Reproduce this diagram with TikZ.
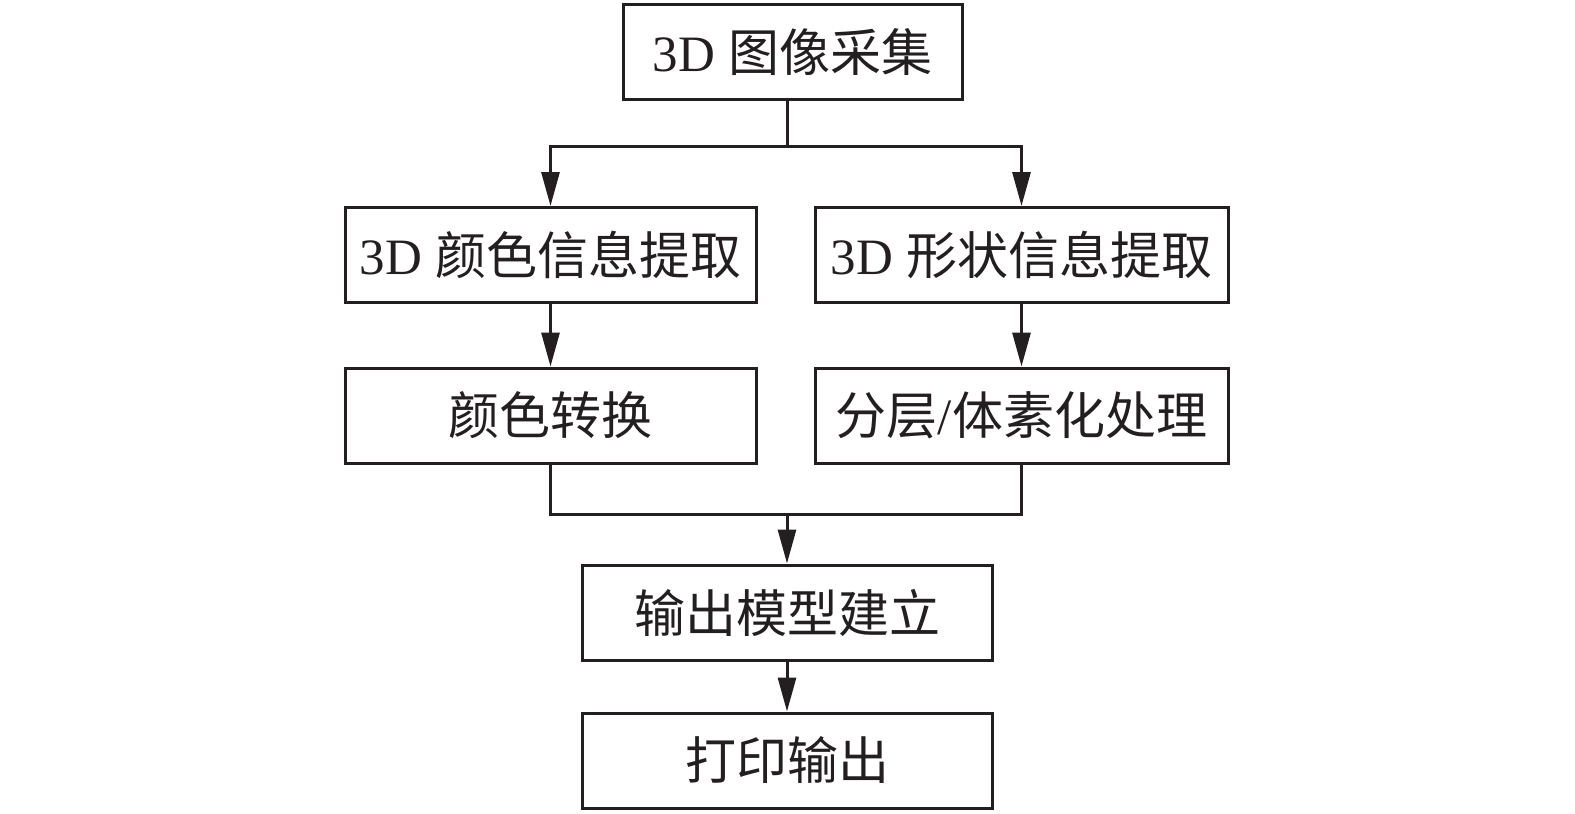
\documentclass[tikz,border=0pt]{standalone}
\usepackage{fontspec}
\setmainfont{Liberation Serif}
\newfontfamily\cjk{Noto Sans CJK SC}
\usetikzlibrary{positioning, arrows.meta}
\definecolor{ink}{RGB}{35,31,32}

\begin{document}
\begin{tikzpicture}[x=0.5pt, y=-0.5pt, line width=1.5pt, color=ink,
    >={Triangle[length=17pt, width=9pt]}]
  \tikzstyle{box} = [rectangle, draw=ink, line width=1.5pt, inner sep=0pt,
    minimum height=47.5pt, text=ink, font=\fontsize{25.5}{30}\selectfont]
  \useasboundingbox (0,0) rectangle (1575,814);

  % adquisicion
  \node[box, minimum width=169.5pt] (cap) at (792.5,52) {3D {\cjk 图像采集}};

  % dos ramas
  \node[box, minimum width=205.5pt] (col) at (550.5,255) {3D {\cjk 颜色信息提取}};
  \node[box, minimum width=206.5pt] (shp) at (1021.5,255) {3D {\cjk 形状信息提取}};
  \node[box, minimum width=205.5pt] (conv) at (550.5,415.5) {\cjk 颜色转换};
  \node[box, minimum width=206.5pt] (layer) at (1021.5,415.5) {{\cjk 分层}/{\cjk 体素化处理}};

  % salida
  \node[box, minimum width=205pt] (model) at (787,612.5) {\cjk 输出模型建立};
  \node[box, minimum width=205pt] (print) at (787,760.5) {\cjk 打印输出};

  \coordinate (split) at (787,146);
  \coordinate (join) at (787,514);

  \draw (cap.south -| split) -- (split);
  \draw[->] (split) -| (col.north);
  \draw[->] (split) -| (shp.north);
  \draw[->] (col) -- (conv);
  \draw[->] (shp) -- (layer);
  \draw (conv.south) |- (join) -| (layer.south);
  \draw[->] (join) -- (model);
  \draw[->] (model) -- (print);
\end{tikzpicture}
\end{document}
